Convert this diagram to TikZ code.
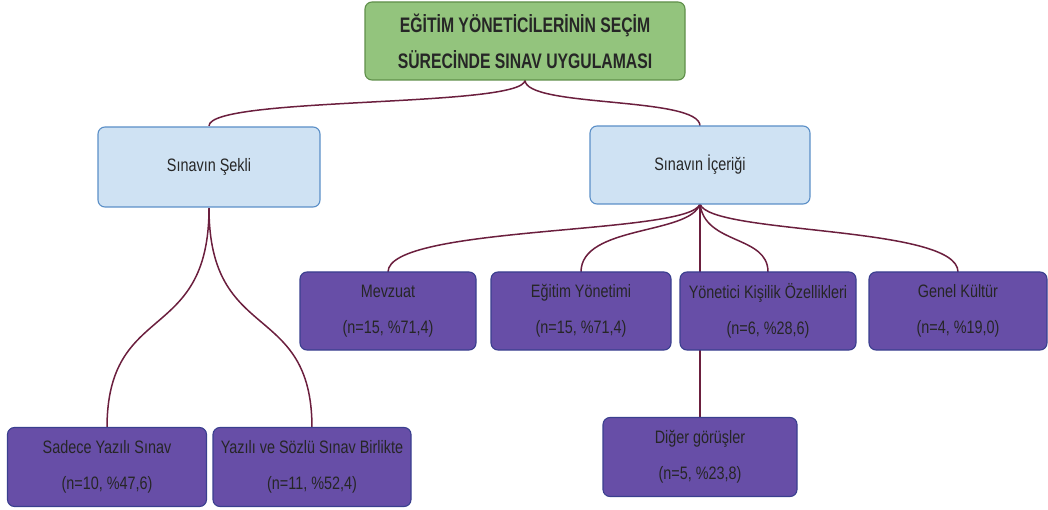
\documentclass[tikz,border=0pt]{standalone}
\usepackage{fontspec}
\setmainfont{Liberation Sans}[FakeStretch=0.80]
\newfontfamily\headfont{Liberation Sans}[FakeStretch=0.75]
\begin{document}
\begin{tikzpicture}[x=1pt,y=-1pt,
  box/.style={rectangle, rounded corners=7pt, line width=1.1pt, align=center,
    inner sep=0pt, text=black!85},
  headbox/.style={box, fill=headfill, draw=headdraw,
    minimum width=320pt, minimum height=78pt, font=\headfont\bfseries\fontsize{21}{36}\selectfont},
  groupbox/.style={box, fill=groupfill, draw=groupdraw, minimum height=80pt,
    font=\fontsize{18}{22}\selectfont},
  leafbox/.style={box, fill=leaffill, draw=leafdraw, minimum height=78pt,
    font=\fontsize{18}{36}\selectfont},
  link/.style={draw=linkcol, line width=1.5pt}]
\definecolor{headfill}{HTML}{93C47D}
\definecolor{headdraw}{HTML}{5F8F4A}
\definecolor{groupfill}{HTML}{CFE2F3}
\definecolor{groupdraw}{HTML}{5B8FC7}
\definecolor{leaffill}{HTML}{674EA7}
\definecolor{leafdraw}{HTML}{3A3F8F}
\definecolor{linkcol}{HTML}{6B1F3E}
\useasboundingbox (0,0) rectangle (1048,510);

% anchor points for the connectors
\coordinate (topB) at (525,80);
\coordinate (shapeT) at (209,126);
\coordinate (shapeB) at (209,208);
\coordinate (contT) at (700,126);
\coordinate (contB) at (700,204);
\coordinate (mevT) at (388,272);
\coordinate (egyT) at (581,272);
\coordinate (yonT) at (768,272);
\coordinate (genT) at (958,272);
\coordinate (sadT) at (107,428);
\coordinate (yazT) at (312,428);
\coordinate (digT) at (700,418);

% connectors (drawn first so the boxes cover their ends)
\draw[link] (topB) .. controls (525,108) and (209,96) .. (shapeT);
\draw[link] (topB) .. controls (525,108) and (700,96) .. (contT);
\draw[link] (shapeB) .. controls (209,345) and (107,300) .. (sadT);
\draw[link] (shapeB) .. controls (209,345) and (312,300) .. (yazT);
\draw[link] (contB) .. controls (690,235) and (388,225) .. (mevT);
\draw[link] (contB) .. controls (690,235) and (581,225) .. (egyT);
\draw[link] (contB) .. controls (705,245) and (768,235) .. (yonT);
\draw[link] (contB) .. controls (710,235) and (958,225) .. (genT);
\draw[link] (contB) -- (digT);

% boxes
\node[headbox] (top) at (525,41) {EĞİTİM YÖNETİCİLERİNİN SEÇİM\\SÜRECİNDE SINAV UYGULAMASI};
\node[groupbox, minimum width=222pt] (shape) at (209,167) {Sınavın Şekli};
\node[groupbox, minimum width=220pt, minimum height=78pt] (content) at (700,165) {Sınavın İçeriği};
\node[leafbox, minimum width=176pt] (mev) at (388,311) {Mevzuat\\(n=15, \%71,4)};
\node[leafbox, minimum width=180pt] (egy) at (581,311) {Eğitim Yönetimi\\(n=15, \%71,4)};
\node[leafbox, minimum width=176pt] (yon) at (768,311) {Yönetici Kişilik Özellikleri\\(n=6, \%28,6)};
\node[leafbox, minimum width=178pt] (gen) at (958,311) {Genel Kültür\\(n=4, \%19,0)};
\node[leafbox, minimum width=199pt, minimum height=79pt] (sad) at (107,467) {Sadece Yazılı Sınav\\(n=10, \%47,6)};
\node[leafbox, minimum width=198pt, minimum height=79pt] (yaz) at (312,467) {Yazılı ve Sözlü Sınav Birlikte\\(n=11, \%52,4)};
\node[leafbox, minimum width=194pt, minimum height=79pt] (dig) at (700,457) {Diğer görüşler\\(n=5, \%23,8)};
\end{tikzpicture}
\end{document}
